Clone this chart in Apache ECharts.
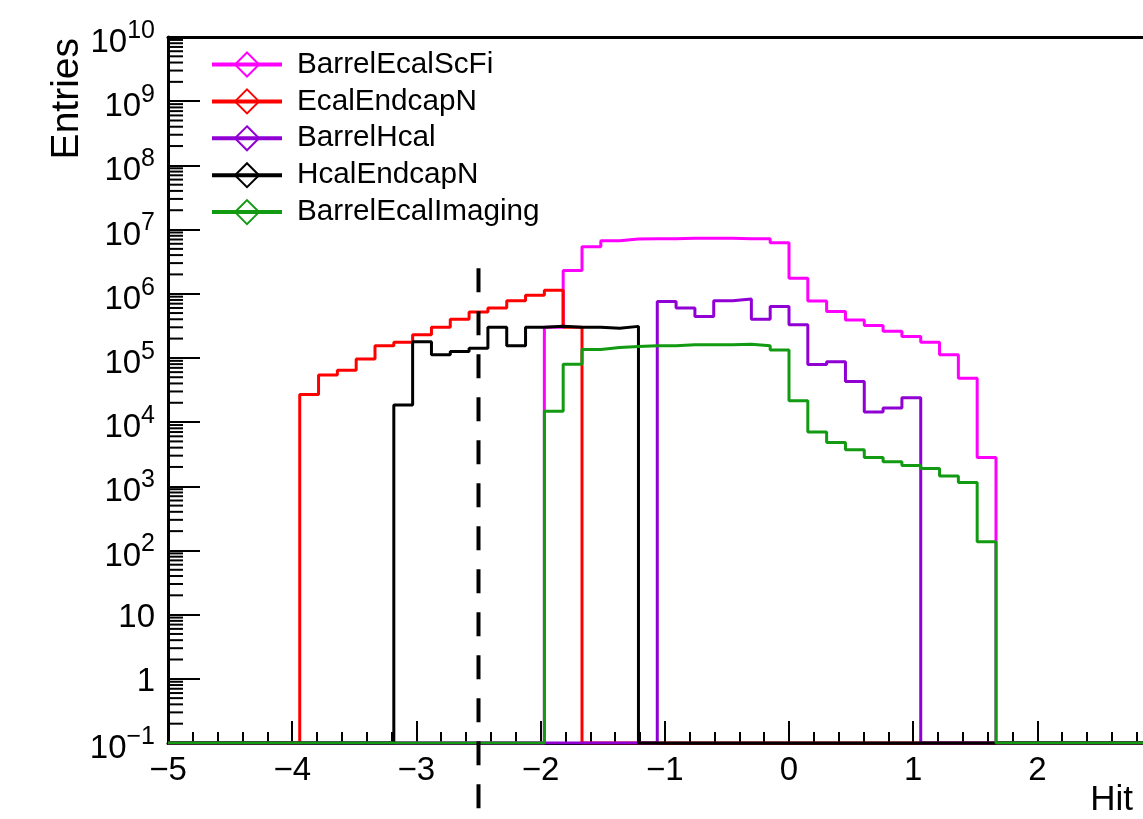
<!DOCTYPE html>
<html>
<head>
<meta charset="utf-8">
<script src="https://cdn.jsdelivr.net/npm/echarts@6/dist/echarts.min.js"></script>
<style>
  html, body { margin: 0; padding: 0; background: #fff; }
  #chart { width: 1143px; height: 819px; }
</style>
</head>
<body>
<div id="chart"></div>
<script>
// histogram binning: 66 bins over [-5, 5]
const HIST_LO = -5, HIST_HI = 5, N_BINS = 66;
const X_MIN = -5, X_MAX = 3;
const Y_MIN = 0.1, Y_MAX = 1e10;

const seriesNames = ['BarrelEcalScFi', 'EcalEndcapN', 'BarrelHcal', 'HcalEndcapN', 'BarrelEcalImaging'];
const seriesColors = ['#ff00ff', '#ff0000', '#9000d4', '#000000', '#139a13'];
// index of the first non-empty bin of each histogram
const firstBin = [20, 7, 26, 12, 20];

// bin contents
const barrelEcalScFi = [3.0e5, 2.3e6, 5.4e6, 6.7e6, 7.1e6, 7.2e6, 7.2e6, 7.3e6, 7.3e6, 7.3e6, 7.2e6, 7.2e6,
  6.2e6, 1.74e6, 7.7e5, 5.3e5, 3.9e5, 3.2e5, 2.6e5, 2.15e5, 1.75e5, 1.12e5, 4.8e4, 2.8e3];
const ecalEndcapN = [2.7e4, 5.4e4, 6.4e4, 9.6e4, 1.55e5, 1.75e5, 2.3e5, 3.0e5, 4.0e5, 5.2e5, 6.0e5, 7.8e5,
  9.5e5, 1.13e6, 3.0e5];
const barrelHcal = [7.6e5, 6.0e5, 4.4e5, 7.8e5, 8.3e5, 4.0e5, 6.3e5, 3.3e5, 7.9e4, 8.7e4, 4.3e4, 1.44e4,
  1.66e4, 2.4e4];
const hcalEndcapN = [1.85e4, 1.78e5, 1.12e5, 1.26e5, 1.41e5, 3.0e5, 1.55e5, 3.0e5, 3.1e5, 3.0e5, 3.0e5,
  2.9e5, 3.1e5];
const barrelEcalImaging = [1.48e4, 8.0e4, 1.35e5, 1.45e5, 1.5e5, 1.55e5, 1.55e5, 1.6e5, 1.6e5, 1.6e5,
  1.63e5, 1.55e5, 1.33e5, 2.15e4, 7.0e3, 4.8e3, 3.7e3, 2.8e3, 2.4e3, 2.1e3, 1.9e3, 1.45e3, 1.15e3, 137];
const seriesCounts = [barrelEcalScFi, ecalEndcapN, barrelHcal, hcalEndcapN, barrelEcalImaging];

// dashed cut line
const cutX = -2.5;
const cutTop = 2.5e6;

const FONT = 'Liberation Sans';

// turn bin contents into step points; empty bins sit on the frame bottom
function histData(start, counts) {
  const w = (HIST_HI - HIST_LO) / N_BINS;
  const pts = [];
  for (let k = 0; k < N_BINS; k++) {
    const c = (k >= start && k < start + counts.length) ? counts[k - start] : 0;
    pts.push([HIST_LO + k * w, Math.max(c, Y_MIN)]);
  }
  pts.push([HIST_HI, pts[N_BINS - 1][1]]);
  return pts;
}

// minor ticks of the log axis at 2..9 x 10^k
const minorTickValues = [];
for (let e = -1; e < 10; e++) {
  for (let m = 2; m <= 9; m++) minorTickValues.push([X_MIN, m * Math.pow(10, e)]);
}

function yLabel(v) {
  const e = Math.round(Math.log10(v));
  if (e === 0) return '{p|1}';
  if (e === 1) return '{p|10}';
  return '{b|10}{s|' + String(e).replace('-', '\u2212') + '}';
}

const histSeries = seriesNames.map((name, i) => ({
  name: name,
  type: 'line',
  step: 'end',
  data: histData(firstBin[i], seriesCounts[i]),
  symbol: 'diamond',
  showSymbol: false,
  lineStyle: { color: seriesColors[i], width: 3 },
  itemStyle: { color: 'rgba(255,255,255,0)', borderColor: seriesColors[i], borderWidth: 2 },
  silent: true
}));

const chart = echarts.init(document.getElementById('chart'));
chart.setOption({
  animation: false,
  backgroundColor: '#fff',
  grid: { left: 168, top: 37, right: 1143 - 1161.6, bottom: 76, outerBoundsMode: 'none', containLabel: false },
  legend: {
    data: seriesNames,
    orient: 'vertical',
    left: 210,
    top: 49.5,
    padding: 0,
    itemWidth: 70,
    itemHeight: 30,
    itemGap: 6.9,
    selectedMode: false,
    lineStyle: { width: 4 },
    textStyle: { fontSize: 29.7, fontFamily: FONT, color: '#000', padding: [0, 0, 0, 10] }
  },
  xAxis: [{
    type: 'value',
    min: X_MIN,
    max: X_MAX,
    interval: 1,
    axisLine: { onZero: false, lineStyle: { color: '#000', width: 3 } },
    axisTick: { inside: true, length: 22, lineStyle: { color: '#000', width: 2 } },
    minorTick: { show: true, splitNumber: 5, length: 11, lineStyle: { color: '#000', width: 2 } },
    splitLine: { show: false },
    axisLabel: {
      fontSize: 33, fontFamily: FONT, color: '#000', margin: 11,
      formatter: v => String(v).replace('-', '\u2212')
    }
  }, {
    type: 'value',
    position: 'top',
    min: X_MIN,
    max: X_MAX,
    axisLine: { onZero: false, lineStyle: { color: '#000', width: 3 } },
    axisTick: { show: false },
    axisLabel: { show: false },
    splitLine: { show: false }
  }],
  yAxis: {
    type: 'log',
    logBase: 10,
    min: Y_MIN,
    max: Y_MAX,
    interval: 1,
    axisLine: { show: true, onZero: false, lineStyle: { color: '#000', width: 3 } },
    axisTick: { show: true, inside: true, length: 32, lineStyle: { color: '#000', width: 2 } },
    splitLine: { show: false },
    axisLabel: {
      margin: 13,
      formatter: yLabel,
      rich: {
        b: { fontSize: 33, fontFamily: FONT, color: '#000', padding: [12, 0, 0, 0] },
        s: { fontSize: 25, fontFamily: FONT, color: '#000', padding: [0, 0, 12, 0] },
        p: { fontSize: 33, fontFamily: FONT, color: '#000', padding: [6, 0, 0, 0] }
      }
    }
  },
  graphic: [
    {
      type: 'text', x: 67.5, y: 38, rotation: Math.PI / 2,
      style: { text: 'Entries', fontSize: 39, fontFamily: FONT, fill: '#000', align: 'right', verticalAlign: 'middle' }
    },
    {
      type: 'text', x: 1133, y: 800,
      style: { text: 'Hit', fontSize: 35, fontFamily: FONT, fill: '#000', align: 'right', verticalAlign: 'middle' }
    }
  ],
  series: [
    {
      type: 'custom',
      name: 'minorTicks',
      silent: true,
      clip: false,
      data: minorTickValues,
      renderItem: (params, api) => {
        const p = api.coord([api.value(0), api.value(1)]);
        return {
          type: 'line',
          shape: { x1: p[0], y1: p[1], x2: p[0] + 15, y2: p[1] },
          style: { stroke: '#000', lineWidth: 2 }
        };
      }
    },
    ...histSeries,
    {
      type: 'custom',
      name: 'cut',
      silent: true,
      clip: false,
      z: 5,
      data: [[cutX, cutTop]],
      renderItem: (params, api) => {
        const top = api.coord([api.value(0), api.value(1)]);
        const bottom = api.coord([api.value(0), Y_MIN]);
        return {
          type: 'line',
          shape: { x1: top[0], y1: top[1], x2: top[0], y2: bottom[1] + 72 },
          style: { stroke: '#000', lineWidth: 4, lineDash: [24, 19] }
        };
      }
    }
  ]
});
</script>
</body>
</html>
